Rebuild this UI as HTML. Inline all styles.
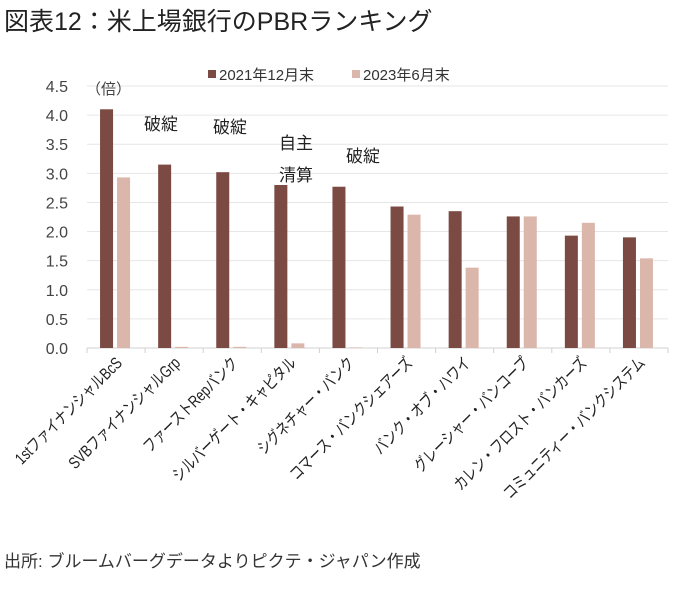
<!DOCTYPE html>
<html><head><meta charset="utf-8"><style>
body{margin:0;background:#fff;width:677px;height:585px;overflow:hidden;font-family:"Liberation Sans","Noto Sans CJK JP",sans-serif;}
</style></head><body>
<svg width="677" height="585" font-family="Liberation Sans, Noto Sans CJK JP, sans-serif">
<text x="4" y="30" font-size="25" fill="#222">図表12：米上場銀行のPBRランキング</text>
<g id="grid"></g><g id="bars"></g><g id="labels"></g>
<text x="86" y="94" font-size="15" fill="#444">（倍）</text>
<rect x="208" y="70" width="8" height="8" fill="#7b4a42"/>
<text x="219" y="80" font-size="15" fill="#333">2021年12月末</text>
<rect x="352" y="70" width="8" height="8" fill="#dbb6aa"/>
<text x="363" y="80" font-size="15" fill="#333">2023年6月末</text>
<text x="144" y="130" font-size="17" fill="#222">破綻</text>
<text x="213" y="133" font-size="17" fill="#222">破綻</text>
<text x="279" y="149" font-size="17" fill="#222">自主</text>
<text x="279" y="181" font-size="17" fill="#222">清算</text>
<text x="346" y="162" font-size="17" fill="#222">破綻</text>
<text x="4" y="567" font-size="17" fill="#333">出所: ブルームバーグデータよりピクテ・ジャパン作成</text>
</svg>
<script>
const categories=["1stファイナンシャルBcS","SVBファイナンシャルGrp","ファーストRepバンク","シルバーゲート・キャピタル","シグネチャー・バンク","コマース・バンクシェアーズ","バンク・オブ・ハワイ","グレーシャー・バンコープ","カレン・フロスト・バンカーズ","コミュニティー・バンクシステム"];
const values2021=[4.1,3.15,3.02,2.8,2.77,2.43,2.35,2.26,1.93,1.9];
const values2023=[2.93,0.02,0.02,0.08,0.01,2.29,1.38,2.26,2.15,1.54];
const yTicks=["0.0","0.5","1.0","1.5","2.0","2.5","3.0","3.5","4.0","4.5"];
const NS="http://www.w3.org/2000/svg";
const x0=87,x1=668,y0=348,y45=86;
const yS=v=>y0-(v/4.5)*(y0-y45);
const bw=(x1-x0)/categories.length;
const xC=i=>x0+bw*(i+0.5);
function mk(t,a,p){const e=document.createElementNS(NS,t);for(const k in a)e.setAttribute(k,a[k]);p.appendChild(e);return e;}
const grid=document.getElementById('grid'),bars=document.getElementById('bars'),labels=document.getElementById('labels');
yTicks.forEach((t,i)=>{const v=parseFloat(t);const y=yS(v);
 const l=mk('line',{x1:x0,x2:x1,y1:y,y2:y,stroke:i===0?'#d0d0d0':'#e6e6e6','stroke-width':1},grid);
 
 
 const tx=mk('text',{x:68,y:y+6,'font-size':16,fill:'#444','text-anchor':'end'},grid);tx.textContent=t;
 
 
});
for(let i=0;i<=categories.length;i++){const x=x0+bw*i;const l=mk('line',{x1:x,x2:x,y1:y0,y2:y0+5,stroke:'#d0d0d0'},grid);
 
 }
categories.forEach((c,i)=>{const cx=xC(i);
 const a=mk('rect',{x:cx-16,y:yS(values2021[i]),width:13,height:y0-yS(values2021[i]),fill:'#7b4a42'},bars);
 
 
 const b=mk('rect',{x:cx+1,y:yS(values2023[i]),width:13,height:y0-yS(values2023[i]),fill:'#dbb6aa'},bars);
 
 
 const t=mk('text',{x:0,y:0,'font-size':16.5,fill:'#222','text-anchor':'end',transform:`translate(${cx+7} 364) rotate(-45) scale(0.78 1)`},labels);t.textContent=c;
 
 
});
</script>
</body></html>
